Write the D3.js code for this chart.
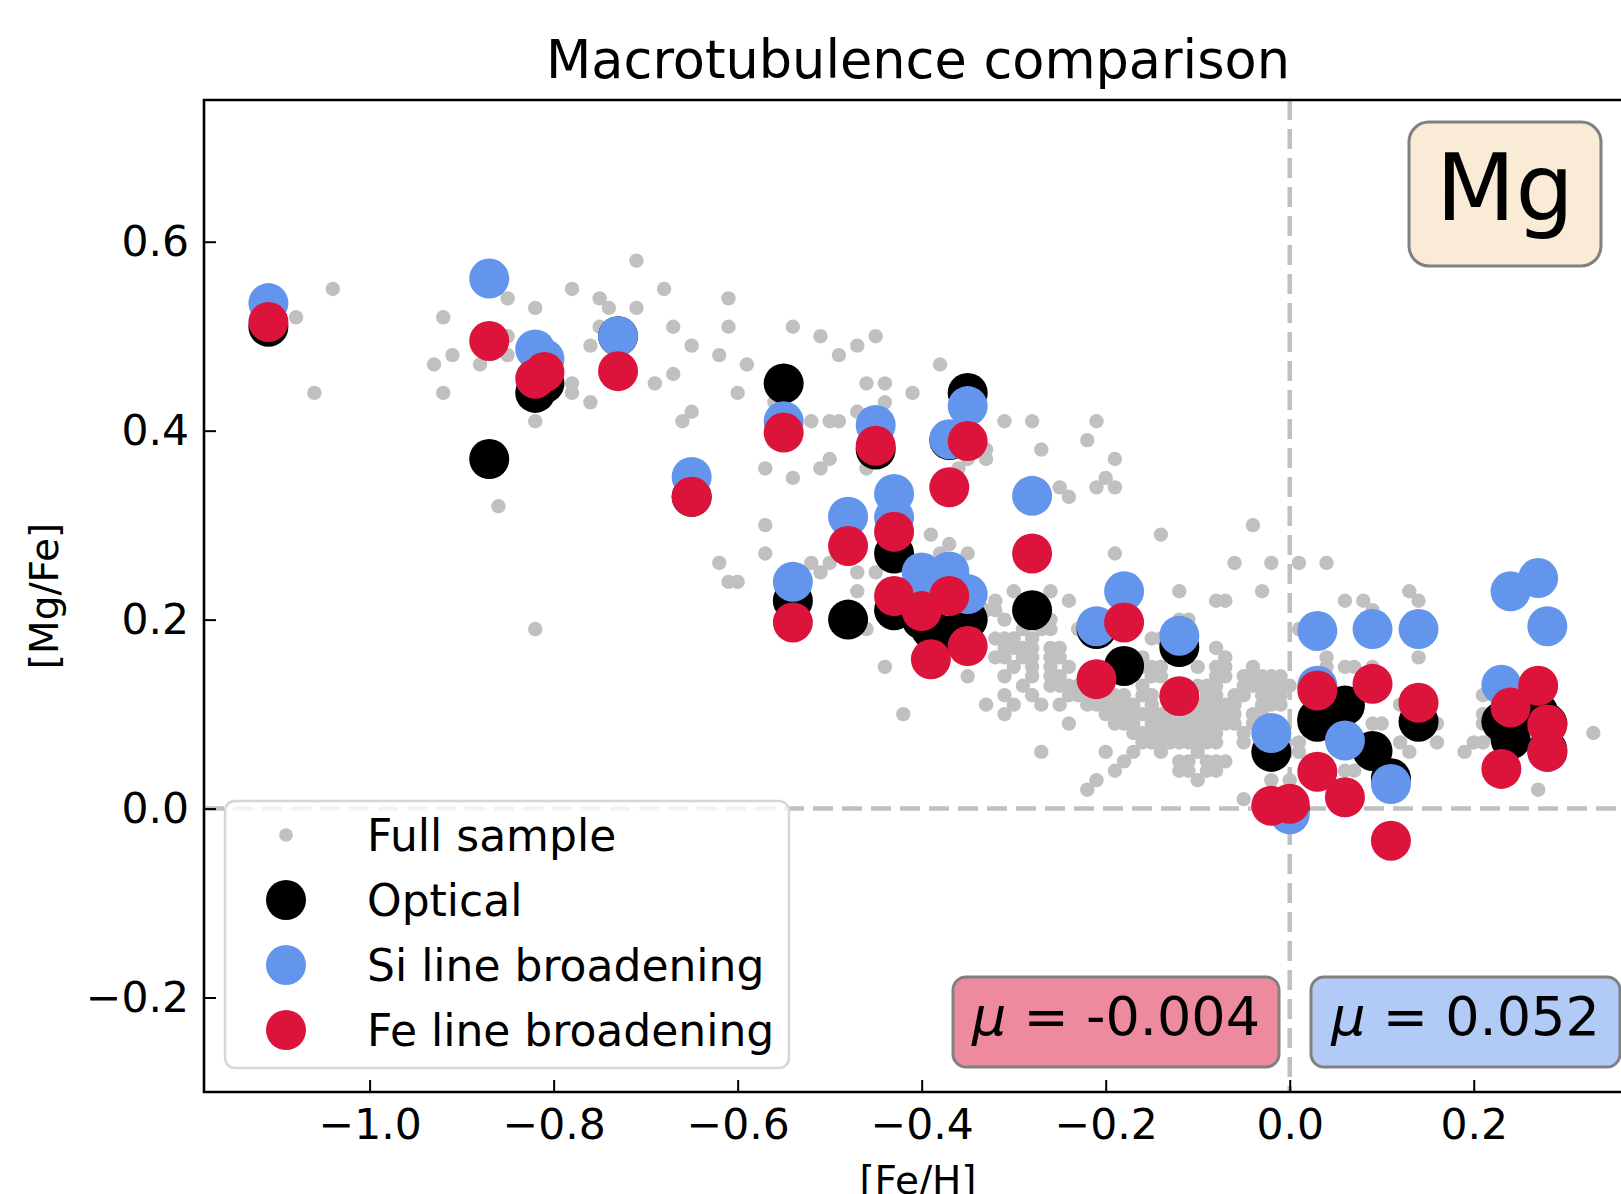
<!DOCTYPE html>
<html>
<head>
<meta charset="utf-8">
<script src="https://cdn.jsdelivr.net/npm/d3@7"></script>
<style>
  body { margin: 0; background: #fff; }
  svg { display: block; font-family: "DejaVu Sans", sans-serif; }
</style>
</head>
<body>
<div id="chart"></div>
<script>
// Macroturbulence comparison, [Mg/Fe] vs [Fe/H]

////////////////////////////////////////////////////////////////////////
// Data

// tick values
let xMajor = [-1.0, -0.8, -0.6, -0.4, -0.2, 0.0, 0.2];
let xMinor = [-1.15, -1.1, -1.05, -0.95, -0.9, -0.85, -0.75, -0.7, -0.65, -0.55, -0.5, -0.45,
              -0.35, -0.3, -0.25, -0.15, -0.1, -0.05, 0.05, 0.1, 0.15, 0.25, 0.3, 0.35];
let yMajor = [-0.2, 0.0, 0.2, 0.4, 0.6];
let yMinor = [-0.25, -0.15, -0.1, -0.05, 0.05, 0.1, 0.15, 0.25, 0.3, 0.35, 0.45, 0.5, 0.55, 0.65, 0.7];

// full sample, sparse part: [Fe/H, Mg/Fe]
let fullSparse = [
  [-1.08,0.52],[-1.04,0.55],[-1.06,0.44],
  [-0.93,0.47],[-0.92,0.52],[-0.92,0.44],[-0.91,0.48],[-0.88,0.47],
  [-0.86,0.32],[-0.85,0.54],[-0.85,0.50],[-0.85,0.48],[-0.82,0.53],[-0.82,0.41],[-0.82,0.19],
  [-0.78,0.55],[-0.78,0.45],[-0.78,0.44],[-0.76,0.49],[-0.76,0.43],[-0.75,0.54],[-0.75,0.51],[-0.74,0.53],
  [-0.71,0.58],[-0.71,0.53],[-0.69,0.45],[-0.68,0.55],[-0.67,0.51],[-0.67,0.46],[-0.66,0.41],[-0.65,0.49],[-0.65,0.42],
  [-0.62,0.48],[-0.62,0.26],[-0.61,0.54],[-0.61,0.51],[-0.61,0.24],[-0.60,0.44],[-0.60,0.24],[-0.59,0.47],
  [-0.57,0.36],[-0.57,0.30],[-0.57,0.27],[-0.56,0.43],[-0.54,0.51],[-0.54,0.35],
  [-0.52,0.41],[-0.52,0.26],[-0.51,0.50],[-0.51,0.36],[-0.51,0.25],[-0.50,0.41],[-0.50,0.37],[-0.50,0.26],
  [-0.49,0.48],[-0.49,0.41],[-0.47,0.49],[-0.47,0.42],[-0.47,0.25],[-0.47,0.23],
  [-0.46,0.45],[-0.46,0.36],[-0.46,0.19],[-0.45,0.50],[-0.45,0.25],[-0.44,0.45],[-0.44,0.43],[-0.44,0.15],
  [-0.42,0.10],[-0.41,0.44],[-0.39,0.29],[-0.38,0.47],[-0.38,0.27],[-0.37,0.28],
  [-0.36,0.36],[-0.35,0.37],[-0.35,0.27],[-0.35,0.14],[-0.33,0.38],[-0.33,0.37],
  [-0.31,0.41],[-0.28,0.41],[-0.27,0.38],[-0.25,0.34],[-0.24,0.33],[-0.22,0.39],[-0.21,0.41],
  [-0.21,0.34],[-0.20,0.35],[-0.19,0.34],[-0.19,0.37],[-0.19,0.27],[-0.14,0.29],[-0.04,0.30],
  [0.01,0.19],[0.09,0.21],[0.13,0.23],[0.14,0.22],[0.14,0.16],[0.04,0.16],[0.04,0.15],[0.06,0.15],
  [0.07,0.15],[0.09,0.15],[0.12,0.11],[0.09,0.09],[0.10,0.09],[0.16,0.09],[0.16,0.07],[0.12,0.07],
  [0.13,0.06],[0.19,0.06],[0.20,0.07],[0.21,0.07],[0.21,0.12],[0.21,0.10],[0.21,0.09],[0.22,0.08],
  [0.33,0.08],[0.27,0.02],[0.00,0.03],[0.06,0.04],[0.07,0.04],[0.01,0.07],[0.01,0.06],[0.06,0.22],
  [0.08,0.22],[-0.01,0.14],[0.00,0.13],[-0.01,0.11]
];

// full sample, dense part, one row per [Mg/Fe] value: [Mg/Fe, [Fe/H ...]]
let fullDenseRows = [
  [0.26, [-0.06, -0.02, 0.01, 0.04]],
  [0.23, [-0.30, -0.26, -0.12, -0.03]],
  [0.22, [-0.32, -0.24, -0.08, -0.07]],
  [0.21, [-0.33, -0.32]],
  [0.20, [-0.31, -0.26, -0.12, -0.11]],
  [0.19, [-0.29, -0.27, -0.26, -0.23]],
  [0.18, [-0.32, -0.31, -0.30, -0.28, -0.15, -0.14]],
  [0.17, [-0.31, -0.30, -0.29, -0.28, -0.26, -0.25, -0.08]],
  [0.16, [-0.32, -0.31, -0.29, -0.28, -0.26, -0.25, -0.16, -0.07]],
  [0.15, [-0.30, -0.28, -0.26, -0.24, -0.16, -0.15, -0.14, -0.10, -0.08, -0.07, -0.04]],
  [0.14, [-0.31, -0.28, -0.26, -0.25, -0.15, -0.14, -0.08, -0.07, -0.05, -0.04, -0.03, -0.02]],
  [0.13, [-0.29, -0.26, -0.25, -0.24, -0.23, -0.16, -0.10, -0.09, -0.08, -0.05, -0.04, -0.03, -0.02, -0.01]],
  [0.12, [-0.31, -0.28, -0.24, -0.23, -0.22, -0.21, -0.20, -0.19, -0.18, -0.16, -0.15, -0.09, -0.08,
          -0.06, -0.05, -0.03, -0.02, -0.01]],
  [0.11, [-0.33, -0.30, -0.27, -0.25, -0.22, -0.21, -0.20, -0.19, -0.18, -0.17, -0.15, -0.13, -0.12,
          -0.11, -0.10, -0.09, -0.08, -0.07, -0.06, -0.03, -0.02]],
  [0.10, [-0.31, -0.20, -0.19, -0.18, -0.17, -0.16, -0.15, -0.14, -0.13, -0.11, -0.10, -0.09, -0.08,
          -0.07, -0.06, -0.04, -0.03]],
  [0.09, [-0.24, -0.19, -0.18, -0.17, -0.15, -0.14, -0.13, -0.12, -0.11, -0.10, -0.09, -0.08, -0.07,
          -0.06, -0.04, -0.03]],
  [0.08, [-0.17, -0.16, -0.15, -0.14, -0.13, -0.12, -0.11, -0.10, -0.09, -0.08, -0.05]],
  [0.07, [-0.16, -0.15, -0.14, -0.13, -0.12, -0.11, -0.10, -0.09, -0.08, -0.05]],
  [0.06, [-0.27, -0.20, -0.17, -0.14, -0.10]],
  [0.05, [-0.18, -0.12, -0.11, -0.09, -0.08, -0.07]],
  [0.04, [-0.19, -0.12, -0.11, -0.09, -0.08]],
  [0.03, [-0.21, -0.10, -0.02]],
  [0.02, [-0.22]],
  [0.01, [-0.05]]
];

// analysed stars: [Fe/H] and [Mg/Fe] from the three methods
let starFeH   = [-1.11, -0.87, -0.82, -0.81, -0.73, -0.65, -0.55, -0.54, -0.48, -0.45, -0.43, -0.43,
                 -0.40, -0.39, -0.37, -0.37, -0.35, -0.35, -0.28, -0.21, -0.18, -0.12, -0.02, 0.00,
                 0.03, 0.03, 0.06, 0.09, 0.11, 0.14, 0.23, 0.24, 0.27, 0.28, 0.28];
let opticalMg = [0.51, 0.37, 0.44, 0.45, 0.50, 0.33, 0.45, 0.22, 0.20, 0.38, 0.27, 0.21,
                 0.20, 0.19, 0.183, 0.39, 0.44, 0.20, 0.21, 0.19, 0.151, 0.171, 0.06, 0.00,
                 0.095, 0.092, 0.109, 0.061, 0.032, 0.092, 0.092, 0.073, 0.102, 0.09, 0.062];
let siMg      = [0.535, 0.561, 0.486, 0.476, 0.50, 0.351, 0.41, 0.24, 0.309, 0.406, 0.333, 0.308,
                 0.25, 0.24, 0.251, 0.391, 0.426, 0.227, 0.331, 0.193, 0.23, 0.183, 0.08, -0.006,
                 0.188, 0.13, 0.072, 0.19, 0.026, 0.19, 0.131, 0.23, 0.244, 0.193, 0.06];
let feMg      = [0.515, 0.495, 0.455, 0.462, 0.463, 0.33, 0.398, 0.197, 0.278, 0.384, 0.293, 0.225,
                 0.209, 0.158, 0.225, 0.34, 0.389, 0.172, 0.27, 0.137, 0.197, 0.119, 0.003, 0.005,
                 0.125, 0.039, 0.012, 0.132, -0.034, 0.112, 0.042, 0.107, 0.13, 0.089, 0.06];

let legendLabels = ["Full sample", "Optical", "Si line broadening", "Fe line broadening"];
let muFe = "-0.004";
let muSi = "0.052";

////////////////////////////////////////////////////////////////////////
// Layout

let width = 1621, height = 1194;
let plotL = 204, plotR = 1632, plotT = 100, plotB = 1092;

let xScale = d3.scaleLinear().domain([-1.18, 0.372]).range([plotL, plotR]);
let yScale = d3.scaleLinear().domain([-0.3, 0.75]).range([plotB, plotT]);

let grey = "#c0c0c0";
let colors = { optical: "black", si: "#6495ed", fe: "#dc143c" };
let rBig = 20, rSmall = 7.2;

let svg = d3.select("#chart").append("svg")
    .attr("width", width)
    .attr("height", height);

svg.append("defs").append("clipPath").attr("id", "plotclip")
  .append("rect")
    .attr("x", plotL).attr("y", plotT)
    .attr("width", plotR - plotL).attr("height", plotB - plotT);

let plot = svg.append("g").attr("clip-path", "url(#plotclip)");

// reference lines at zero
plot.append("line")
    .attr("x1", plotL).attr("x2", plotR)
    .attr("y1", yScale(0)).attr("y2", yScale(0))
    .attr("stroke", grey).attr("stroke-width", 4.5)
    .attr("stroke-dasharray", "20,9");
plot.append("line")
    .attr("x1", xScale(0)).attr("x2", xScale(0))
    .attr("y1", plotT).attr("y2", plotB)
    .attr("stroke", grey).attr("stroke-width", 4.5)
    .attr("stroke-dasharray", "20,9");

// full sample
let fullSample = fullSparse.concat(
  fullDenseRows.flatMap(function(row) {
    return row[1].map(function(x) { return [x, row[0]]; });
  }));

plot.append("g").selectAll("circle")
  .data(fullSample)
  .enter().append("circle")
    .attr("cx", function(d) { return xScale(d[0]); })
    .attr("cy", function(d) { return yScale(d[1]); })
    .attr("r", rSmall)
    .attr("fill", grey);

// the three methods, drawn black, then blue, then red on top
function drawSeries(values, color) {
  plot.append("g").selectAll("circle")
    .data(values)
    .enter().append("circle")
      .attr("cx", function(d, i) { return xScale(starFeH[i]); })
      .attr("cy", function(d) { return yScale(d); })
      .attr("r", rBig)
      .attr("fill", color);
}
drawSeries(opticalMg, colors.optical);
drawSeries(siMg, colors.si);
drawSeries(feMg, colors.fe);

////////////////////////////////////////////////////////////////////////
// Axes

let fmt = d3.format(".1f");

let xAxisG = svg.append("g").attr("transform", "translate(0," + plotB + ")");
xAxisG.call(d3.axisBottom(xScale).tickValues(xMinor).tickFormat("").tickSize(-7).tickSizeOuter(0));
xAxisG.call(d3.axisBottom(xScale).tickValues(xMajor).tickFormat(fmt).tickSize(-12).tickSizeOuter(0).tickPadding(17));

let yAxisG = svg.append("g").attr("transform", "translate(" + plotL + ",0)");
yAxisG.call(d3.axisLeft(yScale).tickValues(yMinor).tickFormat("").tickSize(-7).tickSizeOuter(0));
yAxisG.call(d3.axisLeft(yScale).tickValues(yMajor).tickFormat(fmt).tickSize(-12).tickSizeOuter(0).tickPadding(15));

svg.selectAll(".domain").remove();
svg.selectAll(".tick line").attr("stroke", "black").attr("stroke-width", 2);
svg.selectAll(".tick text")
    .attr("font-family", "DejaVu Sans")
    .attr("font-size", 42.5)
    .attr("fill", "black");

// spines
let spines = svg.append("g").attr("stroke", "black").attr("stroke-width", 2.6).attr("fill", "none");
spines.append("path")
    .attr("d", "M" + plotL + "," + plotT + " H" + plotR + " V" + plotB + " H" + plotL + " Z");

// titles
svg.append("text")
    .attr("x", (plotL + plotR) / 2).attr("y", 78)
    .attr("text-anchor", "middle")
    .attr("font-size", 52.5)
    .text("Macrotubulence comparison");

svg.append("text")
    .attr("x", (plotL + plotR) / 2).attr("y", 1194)
    .attr("text-anchor", "middle")
    .attr("font-size", 39)
    .text("[Fe/H]");

svg.append("text")
    .attr("transform", "translate(58," + (plotT + plotB) / 2 + ") rotate(-90)")
    .attr("text-anchor", "middle")
    .attr("font-size", 39)
    .text("[Mg/Fe]");

////////////////////////////////////////////////////////////////////////
// Annotation boxes

// element label
svg.append("rect")
    .attr("x", 1409).attr("y", 122).attr("width", 192).attr("height", 144)
    .attr("rx", 20)
    .attr("fill", "#faebd7").attr("stroke", "#808080").attr("stroke-width", 3);
svg.append("text")
    .attr("x", 1505).attr("y", 220)
    .attr("text-anchor", "middle")
    .attr("font-size", 92)
    .text("Mg");

// mean offsets
function muBox(x, w, fill, value) {
  svg.append("rect")
      .attr("x", x).attr("y", 977).attr("width", w).attr("height", 90)
      .attr("rx", 13)
      .attr("fill", fill).attr("stroke", "#808080").attr("stroke-width", 3);
  let t = svg.append("text")
      .attr("x", x + w / 2).attr("y", 1035)
      .attr("text-anchor", "middle")
      .attr("font-size", 54);
  t.append("tspan").attr("font-style", "italic").text("\u03bc");
  t.append("tspan").text(" = " + value);
}
muBox(953, 326, "#ee8a9e", muFe);
muBox(1311, 309, "#b2caf6", muSi);

////////////////////////////////////////////////////////////////////////
// Legend

let legend = svg.append("g");
legend.append("rect")
    .attr("x", 225).attr("y", 801).attr("width", 564).attr("height", 267)
    .attr("rx", 10)
    .attr("fill", "white").attr("fill-opacity", 0.8)
    .attr("stroke", "#d6d6d6").attr("stroke-width", 2.5);

let legendMarks = [
  { r: rSmall * 0.95, color: grey },
  { r: rBig, color: colors.optical },
  { r: rBig, color: colors.si },
  { r: rBig, color: colors.fe }
];
let legendRowY = d3.scaleLinear().domain([0, 3]).range([835, 1030]);

let rows = legend.selectAll("g.row")
  .data(legendLabels)
  .enter().append("g")
    .attr("class", "row")
    .attr("transform", function(d, i) { return "translate(0," + legendRowY(i) + ")"; });
rows.append("circle")
    .attr("cx", 286).attr("cy", 0)
    .attr("r", function(d, i) { return legendMarks[i].r; })
    .attr("fill", function(d, i) { return legendMarks[i].color; });
rows.append("text")
    .attr("x", 367).attr("y", 16)
    .attr("font-size", 44)
    .text(function(d) { return d; });
</script>
</body>
</html>
